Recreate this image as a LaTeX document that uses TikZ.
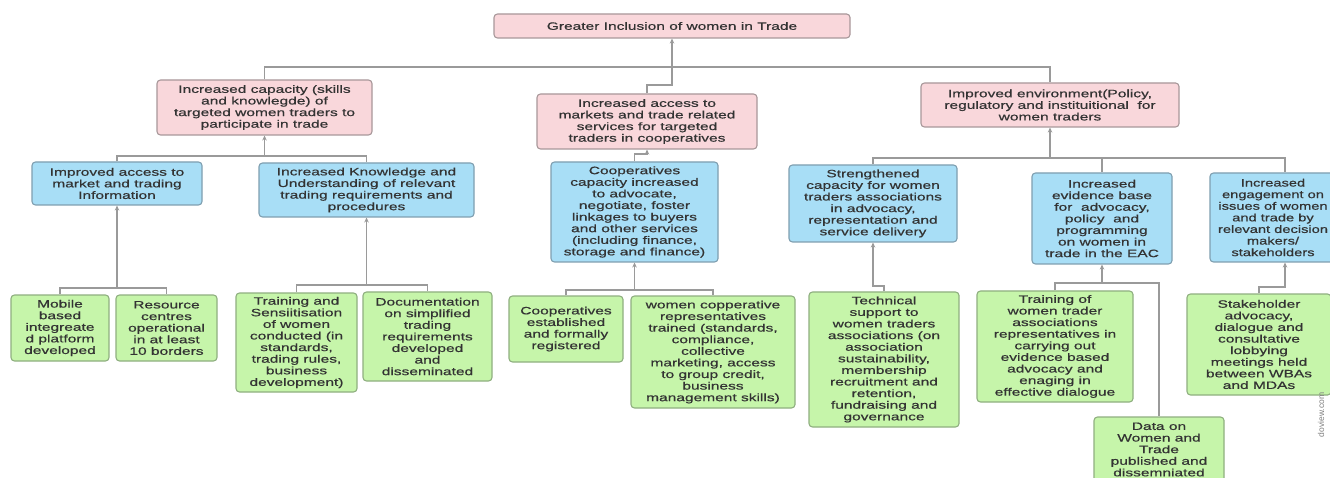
\documentclass[tikz,border=0pt]{standalone}
\usepackage{fontspec}
\setmainfont{Liberation Sans}[FakeStretch=1.45, FakeBold=0.6]
\newfontfamily\plainsans{Liberation Sans}
\newfontfamily\narrowsans{Liberation Sans}[FakeStretch=1.37, FakeBold=0.6]
\usetikzlibrary{arrows.meta}
\definecolor{pinkfill}{HTML}{F9D7DB}
\definecolor{pinkdraw}{HTML}{A8989A}
\definecolor{bluefill}{HTML}{A8DEF6}
\definecolor{bluedraw}{HTML}{7F9FB0}
\definecolor{greenfill}{HTML}{C6F5AA}
\definecolor{greendraw}{HTML}{8FAF80}
\definecolor{linegray}{HTML}{9A9A9A}
\definecolor{textgray}{HTML}{333333}
\tikzset{
  box/.style={rounded corners=3.5pt, line width=1.1pt, align=center, inner sep=1pt,
    text=textgray, font=\fontsize{10.7}{11.6}\selectfont},
  pinkbox/.style={box, draw=pinkdraw, fill=pinkfill},
  bluebox/.style={box, draw=bluedraw, fill=bluefill},
  greenbox/.style={box, draw=greendraw, fill=greenfill},
  conn/.style={draw=linegray, line width=1.4pt},
  arr/.style={conn, -{Stealth[length=5pt,width=4.5pt]}},
}
\begin{document}
\begin{tikzpicture}[x=1pt, y=-1pt]
\useasboundingbox (0,0) rectangle (1330,478);
\clip (0,0) rectangle (1330,478);
\fill[white] (0,0) rectangle (1330,478);

% top
\node[pinkbox, minimum width=356pt, minimum height=24pt] (top) at (672,26) {Greater Inclusion of women in Trade};

% level 1
\node[pinkbox, minimum width=215pt, minimum height=55pt] (p1) at (264.5,107.5) {Increased capacity (skills\\and knowlegde) of\\targeted women traders to\\participate in trade};
\node[pinkbox, minimum width=220pt, minimum height=55pt] (p2) at (647,121.5) {Increased access to\\markets and trade related\\services for targeted\\traders in cooperatives};
\node[pinkbox, minimum width=258pt, minimum height=44pt] (p3) at (1050,105) {Improved environment(Policy,\\regulatory and instituitional\ \ for\\women traders};

% level 2
\node[bluebox, minimum width=170pt, minimum height=43pt] (b1) at (117,183.5) {Improved access to\\market and trading\\Information};
\node[bluebox, minimum width=215pt, minimum height=54pt] (b2) at (366.5,190) {Increased Knowledge and\\Understanding of relevant\\trading requirements and\\procedures};
\node[bluebox, minimum width=167pt, minimum height=100pt] (b3) at (634.5,212) {Cooperatives\\capacity increased\\to advocate,\\negotiate, foster\\linkages to buyers\\and other services\\(including finance,\\storage and finance)};
\node[bluebox, minimum width=168pt, minimum height=77pt] (b4) at (873,203.5) {Strengthened\\capacity for women\\traders associations\\in advocacy,\\representation and\\service delivery};
\node[bluebox, minimum width=140pt, minimum height=91pt] (b5) at (1102,218.5) {Increased\\evidence base\\for\ \ advocacy,\\policy\ \ and\\programming\\on women in\\trade in the EAC};
\node[bluebox, minimum width=136pt, minimum height=89pt,
  label={[align=center, text=textgray, font=\narrowsans\fontsize{10.7}{11.6}\selectfont, xshift=-5pt]center:{Increased\\engagement on\\issues of women\\and trade by\\relevant decision\\makers/\\stakeholders}}] (b6) at (1278,217.5) {};

% level 3
\node[greenbox, minimum width=98pt, minimum height=66pt] (g1) at (60,328) {Mobile\\based\\integreate\\d platform\\developed};
\node[greenbox, minimum width=101pt, minimum height=66pt] (g2) at (166.5,328) {Resource\\centres\\operational\\in at least\\10 borders};
\node[greenbox, minimum width=121pt, minimum height=99pt] (g3) at (296.5,342.5) {Training and\\Sensiitisation\\of women\\conducted (in\\standards,\\trading rules,\\business\\development)};
\node[greenbox, minimum width=129pt, minimum height=89pt] (g4) at (427.5,336.5) {Documentation\\on simplified\\trading\\requirements\\developed\\and\\disseminated};
\node[greenbox, minimum width=114pt, minimum height=66pt] (g5) at (566,329) {Cooperatives\\established\\and formally\\registered};
\node[greenbox, minimum width=164pt, minimum height=112pt] (g6) at (713,352) {women copperative\\representatives\\trained (standards,\\compliance,\\collective\\marketing, access\\to group credit,\\business\\management skills)};
\node[greenbox, minimum width=150pt, minimum height=135pt] (g7) at (884,359.5) {Technical\\support to\\women traders\\associations (on\\association\\sustainability,\\membership\\recruitment and\\retention,\\fundraising and\\governance};
\node[greenbox, minimum width=156pt, minimum height=111pt] (g8) at (1055,346.5) {Training of\\women trader\\associations\\representatives in\\carrying out\\evidence based\\advocacy and\\enaging in\\effective dialogue};
\node[greenbox, minimum width=130pt, minimum height=65pt] (g9) at (1159,449.5) {Data on\\Women and\\Trade\\published and\\dissemniated};
\node[greenbox, minimum width=144pt, minimum height=101pt] (g10) at (1259,344.5) {Stakeholder\\advocacy,\\dialogue and\\consultative\\lobbying\\meetings held\\between WBAs\\and MDAs};

\node[rotate=90, text=gray, font=\plainsans\fontsize{8.5}{9}\selectfont] (dv) at (1321,415) {doview.com};

% connectors: level 1 -> top
\draw[conn] (p1.north) |- (p3.north |- 0,67) -- (p3.north);
\draw[arr] (p2.north) |- (top.south |- 0,85) -- (top.south);

% level 2 -> level 1
\draw[conn] (b1.north) |- (b2.north |- 0,156) -- (b2.north);
\draw[arr] (p1.south |- 0,156) -- (p1.south);
\draw[arr] (b3.north) |- (p2.south |- 0,154) -- (p2.south);
\draw[conn] (b4.north) |- ([xshift=7pt]b6.north |- 0,158) -- ([xshift=7pt]b6.north);
\draw[conn] (b5.north |- 0,158) -- (b5.north);
\draw[arr, line width=2.2pt] (p3.south |- 0,158) -- (p3.south);

% level 3 -> level 2
\draw[conn] (g1.north) |- (g2.north |- 0,288) -- (g2.north);
\draw[arr] (b1.south |- 0,288) -- (b1.south);
\draw[conn] (g3.north) |- (g4.north |- 0,285) -- (g4.north);
\draw[arr] (b2.south |- 0,285) -- (b2.south);
\draw[conn] (g5.north) |- (g6.north |- 0,290) -- (g6.north);
\draw[arr] (b3.south |- 0,290) -- (b3.south);
\draw[arr] (g7.north) |- (b4.south |- 0,286) -- (b4.south);
\draw[conn] (g8.north) |- (g9.north |- 0,283) -- (g9.north);
\draw[arr] (b5.south |- 0,283) -- (b5.south);
\draw[arr] (g10.north) |- ([xshift=7pt]b6.south |- 0,287) -- ([xshift=7pt]b6.south);
\end{tikzpicture}
\end{document}
